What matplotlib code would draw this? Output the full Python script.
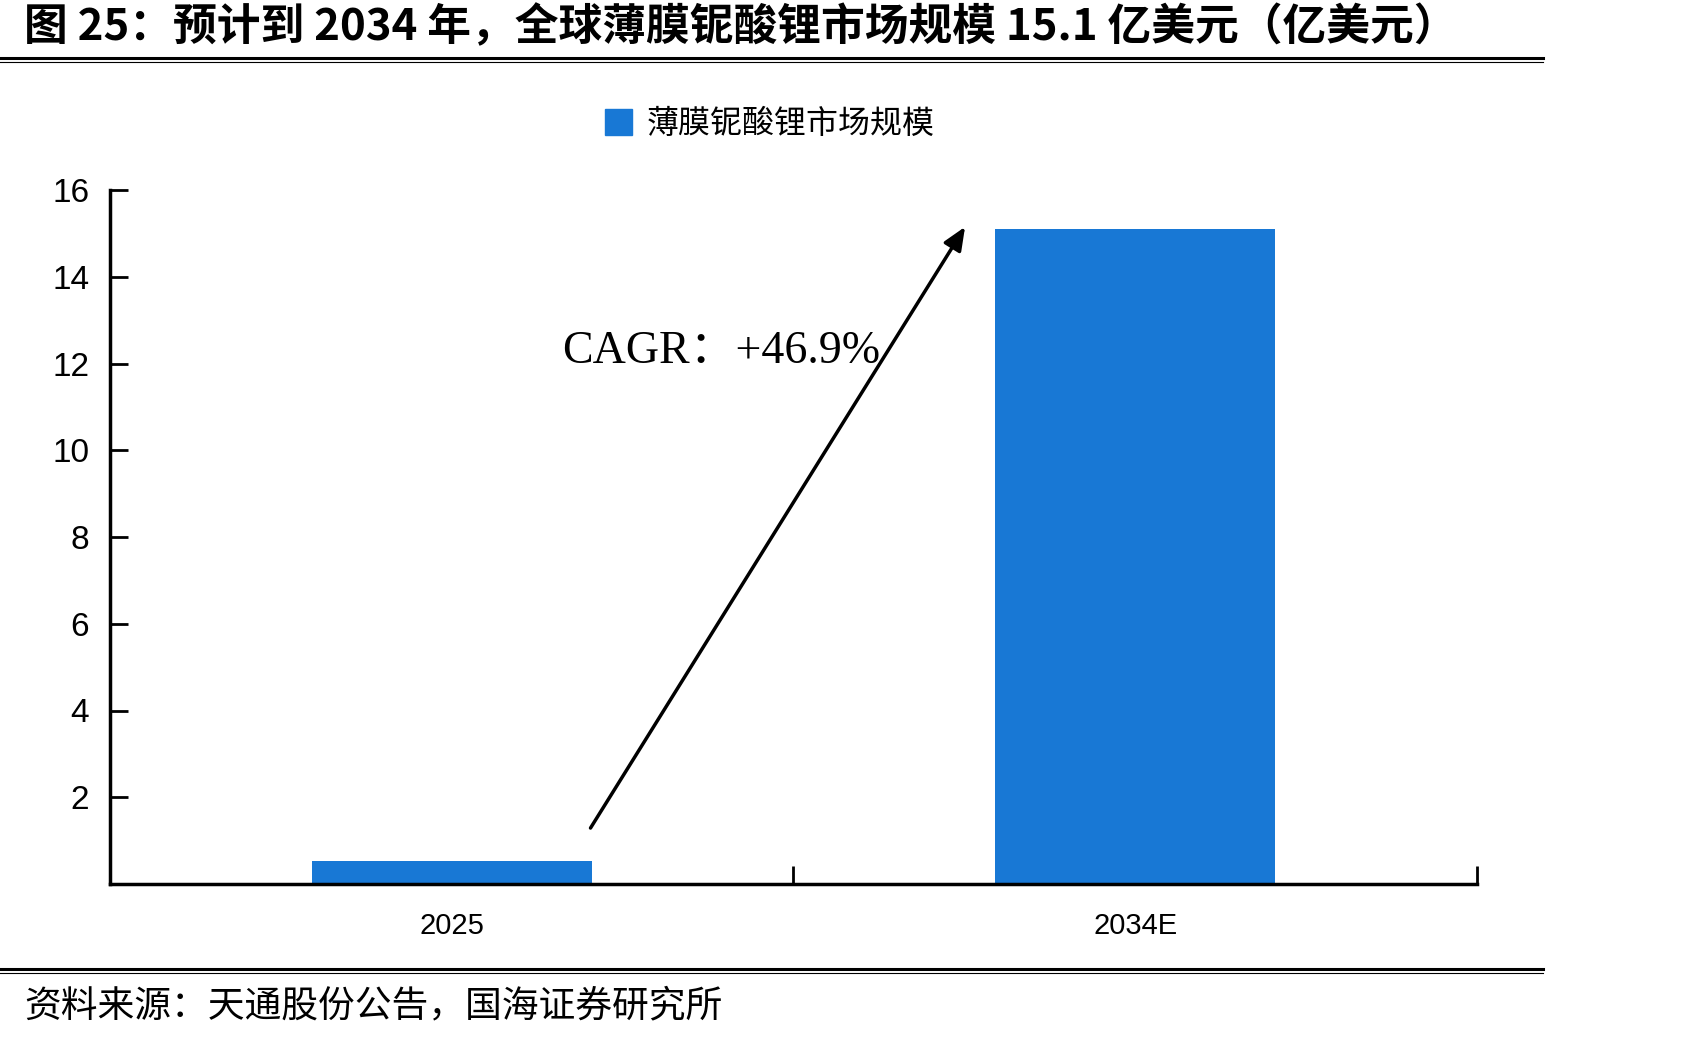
import matplotlib
matplotlib.use("Agg")
import matplotlib.pyplot as plt
from matplotlib.lines import Line2D

plt.rcParams['font.family'] = ['Noto Sans CJK SC', 'DejaVu Sans']

categories = ["2025", "2034E"]
values = [0.53, 15.1]
series_name = "薄膜铌酸锂市场规模"
yticks = [2, 4, 6, 8, 10, 12, 14, 16]
title = "图 25：预计到 2034 年，全球薄膜铌酸锂市场规模 15.1 亿美元（亿美元）"
source = "资料来源：天通股份公告，国海证券研究所"
cagr_text = "CAGR：+46.9%"

W, H = 1689, 1039
fig = plt.figure(figsize=(W / 100, H / 100), dpi=100)
ax = fig.add_axes([110 / W, 1 - 884 / H, (1477 - 110) / W, (884 - 190) / H])

color = "#1878D5"
x = list(range(len(categories)))
ax.bar(x, values, width=0.41, color=color, label=series_name)
ax.set_xlim(-0.5, 1.5)
ax.set_ylim(0, 16)

ax.spines['top'].set_visible(False)
ax.spines['right'].set_visible(False)
for s in ('left', 'bottom'):
    ax.spines[s].set_linewidth(2.5)

ax.set_yticks(yticks)
ax.set_yticklabels([str(v) for v in yticks], family='Liberation Sans', fontsize=24)
ax.tick_params(axis='y', direction='in', length=13, width=2, pad=15)

ax.set_xticks([-0.5, 0.5, 1.5])
ax.set_xticklabels([])
ax.set_xticks(x, minor=True)
ax.set_xticklabels(categories, minor=True, family='Liberation Sans', fontsize=21)
ax.tick_params(axis='x', which='major', direction='in', length=13, width=2)
ax.tick_params(axis='x', which='minor', length=0, pad=20)

# arrow
ax.annotate("", xy=(0.751, 15.15), xytext=(0.203, 1.29),
            arrowprops=dict(arrowstyle="-|>,head_length=1.4,head_width=0.6",
                            color="black", lw=2.5, shrinkA=0, shrinkB=0))
ax.text(0.161, 12.27, cagr_text, family=['Liberation Serif', 'Noto Sans CJK SC'],
        fontsize=33, va='center', ha='left')

# legend
handles = [plt.Rectangle((0, 0), 1, 1, color=color)]
fig.legend(handles, [series_name], loc='center', bbox_to_anchor=(770 / W, 1 - 124 / H),
           frameon=False, fontsize=23, handlelength=0.85, handleheight=0.85,
           handletextpad=0.45)

# title and source
fig.text(24 / W, 1 - 27 / H, title, fontsize=31.5, fontweight='bold', va='center', ha='left')
fig.text(24 / W, 1 - 1006 / H, source, fontsize=26.5, va='center', ha='left')

for yy, lw in ((58, 2.2), (62, 0.8), (969, 2.2), (973, 0.8)):
    fig.add_artist(Line2D([0, 1543 / W], [1 - yy / H, 1 - yy / H], color='black', lw=lw,
                          transform=fig.transFigure))

fig.savefig("out.png", dpi=100)
